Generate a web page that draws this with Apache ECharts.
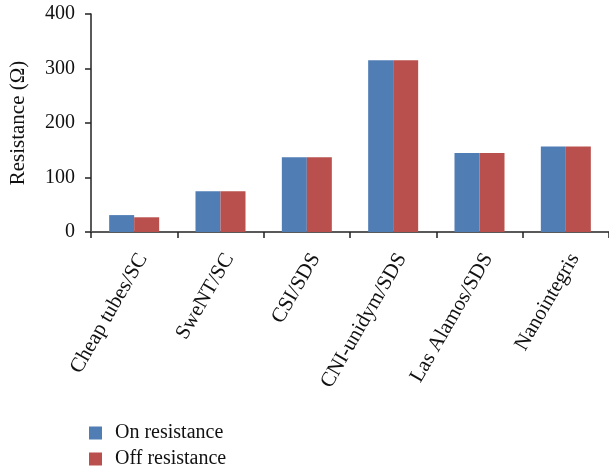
<!DOCTYPE html>
<html><head><meta charset="utf-8">
<script src="https://cdn.jsdelivr.net/npm/echarts@6/dist/echarts.min.js"></script>
<style>html,body{margin:0;padding:0;background:#fff}#c{width:609px;height:469px}</style>
</head><body><div id="c"></div>
<script>
const categories = ['Cheap tubes/SC','SweNT/SC','CSI/SDS','CNI-unidym/SDS','Las Alamos/SDS','Nanointegris'];
const onResistance = [31, 75, 137, 315, 145, 157];
const offResistance = [27, 75, 137, 315, 145, 157];
const yTicks = [0, 100, 200, 300, 400];
const seriesNames = ['On resistance', 'Off resistance'];
const font = 'Liberation Serif';
const legendBase = {
  orient: 'vertical', left: 84, itemWidth: 13, itemHeight: 13, icon: 'rect',
  textStyle: {fontFamily: font, fontSize: 20, color: '#111', padding: [0, 0, 0, 8]}
};
const chart = echarts.init(document.getElementById('c'));
chart.setOption({
  animation: false,
  grid: {left: 89, right: -2, top: 14, bottom: 237, containLabel: false},
  legend: [
    Object.assign({}, legendBase, {top: 418, data: [seriesNames[0]]}),
    Object.assign({}, legendBase, {top: 444, data: [seriesNames[1]]})
  ],
  xAxis: {
    type: 'category', data: categories, boundaryGap: true,
    axisLine: {lineStyle: {color: '#595959', width: 2}},
    axisTick: {show: true, length: 6, lineStyle: {color: '#222', width: 1.5}},
    axisLabel: {rotate: 60, fontFamily: font, fontSize: 21, color: '#111', margin: 18, interval: 0, verticalAlign: 'top', lineHeight: 20}
  },
  yAxis: {
    type: 'value', min: yTicks[0], max: yTicks[yTicks.length-1], interval: 100,
    name: 'Resistance (Ω)', nameLocation: 'middle', nameGap: 62, nameRotate: 90,
    nameTextStyle: {fontFamily: font, fontSize: 21, color: '#111'},
    axisLine: {show: true, lineStyle: {color: '#222', width: 1.5}},
    axisTick: {show: true, length: 6, lineStyle: {color: '#222', width: 1.5}},
    splitLine: {show: false},
    axisLabel: {fontFamily: font, fontSize: 20, color: '#111', margin: 16}
  },
  series: [
    {name: seriesNames[0], type: 'bar', data: onResistance, barWidth: 25, barGap: '0%', itemStyle: {color: '#4f7db4'}},
    {name: seriesNames[1], type: 'bar', data: offResistance, barWidth: 25, barGap: '0%', itemStyle: {color: '#b9504d'}}
  ]
});
</script></body></html>
